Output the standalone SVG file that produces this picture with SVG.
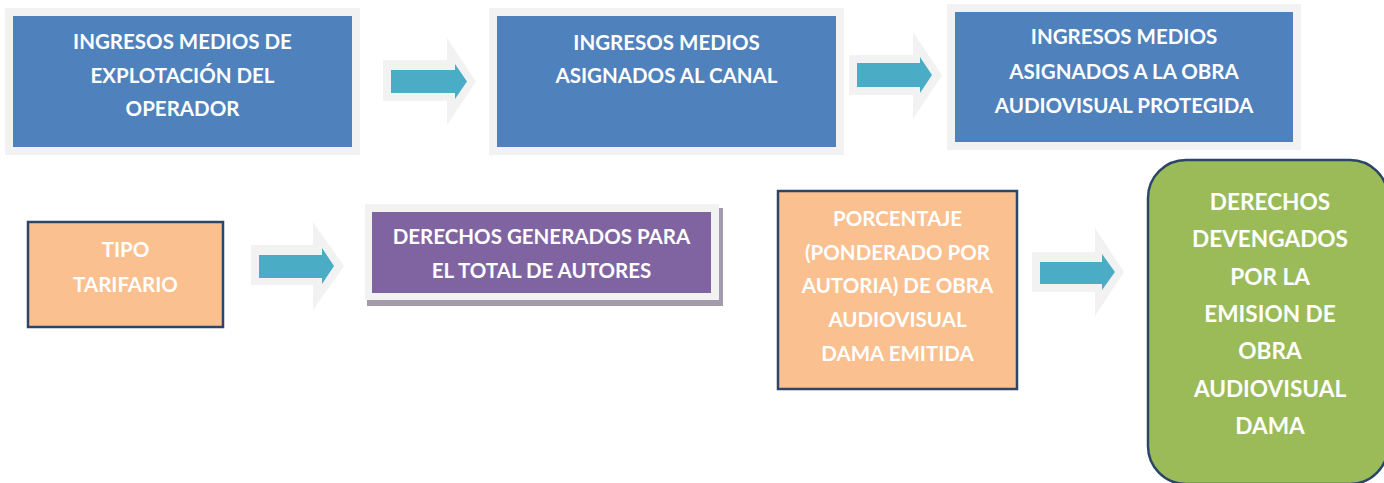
<svg xmlns="http://www.w3.org/2000/svg" width="1384" height="483" viewBox="0 0 1384 483">
  <style>
    .frame { fill: #f2f2f2; }
    .blue { fill: #4f81bd; }
    .peach { fill: #fac090; stroke: #2c4668; stroke-width: 2.5; }
    .purple { fill: #8064a2; }
    .shadow { fill: #a39bab; }
    .green { fill: #9bbb59; stroke: #2c4668; stroke-width: 2.5; }
    .arrow-bg { fill: #f2f2f2; }
    .arrow { fill: #4bacc6; }
    text { font-family: Lato, "Open Sans", sans-serif; font-weight: bold; fill: #ffffff; text-anchor: middle; font-size: 20.5px; }
    .big { font-size: 22.6px; }
  </style>
  <rect width="1384" height="483" fill="#ffffff"/>

  <g id="connectors">
    <polygon class="arrow-bg" points="383,60 447,60 447,38 476,81.5 447,125 447,101 383,101"/>
    <polygon class="arrow" points="391,70 455,70 455,64 467,81.5 455,99 455,93 391,93"/>
    <polygon class="arrow-bg" points="849,55 913,55 913,32 942,75.5 913,119 913,95 849,95"/>
    <polygon class="arrow" points="857,63 920,63 920,57 932,75 920,93 920,87 857,87"/>
    <polygon class="arrow-bg" points="251,245 313,245 313,222 344,266 313,310 313,285 251,285"/>
    <polygon class="arrow" points="259,255 322,255 322,248 334,266 322,284 322,278 259,278"/>
    <polygon class="arrow-bg" points="1032,252 1095,252 1095,228 1124,272 1095,316 1095,292 1032,292"/>
    <polygon class="arrow" points="1040,262 1102,262 1102,254 1115,272 1102,290 1102,284 1040,284"/>
  </g>

  <g id="node-ingresos-operador">
    <rect class="frame" x="5" y="8" width="355" height="147"/>
    <rect class="blue" x="13" y="16" width="339" height="131"/>
    <text x="182.5" y="49">INGRESOS MEDIOS DE</text>
    <text x="182.5" y="83">EXPLOTACIÓN DEL</text>
    <text x="182.5" y="116">OPERADOR</text>
  </g>

  <g id="node-ingresos-canal">
    <rect class="frame" x="489" y="8" width="355" height="147"/>
    <rect class="blue" x="497" y="16" width="339" height="131"/>
    <text x="666.5" y="50">INGRESOS MEDIOS</text>
    <text x="666.5" y="83">ASIGNADOS AL CANAL</text>
  </g>

  <g id="node-ingresos-obra">
    <rect class="frame" x="947" y="4" width="354" height="146"/>
    <rect class="blue" x="955" y="12" width="338" height="130"/>
    <text x="1124" y="44">INGRESOS MEDIOS</text>
    <text x="1124" y="79">ASIGNADOS A LA OBRA</text>
    <text x="1124" y="113">AUDIOVISUAL PROTEGIDA</text>
  </g>

  <g id="node-tipo-tarifario">
    <rect class="peach" x="28" y="222" width="195" height="105"/>
    <text x="125.5" y="257">TIPO</text>
    <text x="125.5" y="292">TARIFARIO</text>
  </g>

  <g id="node-derechos-generados">
    <rect class="shadow" x="367" y="208" width="356" height="98"/>
    <rect class="frame" x="365" y="204" width="354" height="96"/>
    <rect class="purple" x="372" y="212" width="339" height="81"/>
    <text x="541.5" y="244">DERECHOS GENERADOS PARA</text>
    <text x="541.5" y="278">EL TOTAL DE AUTORES</text>
  </g>

  <g id="node-porcentaje">
    <rect class="peach" x="778" y="191" width="239" height="198"/>
    <text x="897.5" y="226">PORCENTAJE</text>
    <text x="897.5" y="260">(PONDERADO POR</text>
    <text x="897.5" y="293">AUTORIA) DE OBRA</text>
    <text x="897.5" y="327">AUDIOVISUAL</text>
    <text x="897.5" y="361">DAMA EMITIDA</text>
  </g>

  <g id="node-derechos-devengados">
    <rect class="green" x="1148" y="160" width="240" height="324" rx="38" ry="38"/>
    <text class="big" x="1270" y="210">DERECHOS</text>
    <text class="big" x="1270" y="247">DEVENGADOS</text>
    <text class="big" x="1270" y="285">POR LA</text>
    <text class="big" x="1270" y="322">EMISION DE</text>
    <text class="big" x="1270" y="359">OBRA</text>
    <text class="big" x="1270" y="397">AUDIOVISUAL</text>
    <text class="big" x="1270" y="434">DAMA</text>
  </g>
</svg>
